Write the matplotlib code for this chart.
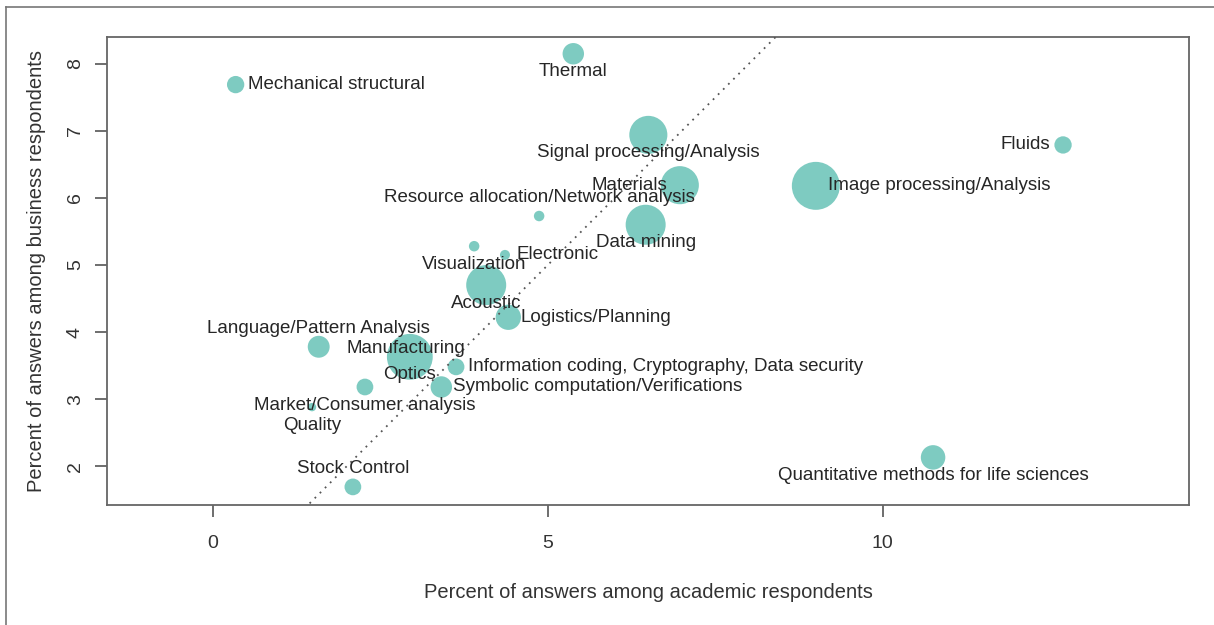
import matplotlib
matplotlib.use("Agg")
import matplotlib.pyplot as plt
from matplotlib.lines import Line2D
import numpy as np

plt.rcParams['font.family'] = ['Liberation Sans', 'DejaVu Sans']

# research areas, share of answers by respondent group, bubble weight
areas = [
    "Mechanical structural", "Thermal", "Signal processing/Analysis", "Fluids",
    "Materials", "Image processing/Analysis", "Resource allocation/Network analysis",
    "Data mining", "Visualization", "Electronic", "Acoustic", "Logistics/Planning",
    "Language/Pattern Analysis", "Manufacturing", "Optics",
    "Information coding, Cryptography, Data security",
    "Symbolic computation/Verifications", "Market/Consumer analysis", "Quality",
    "Stock Control", "Quantitative methods for life sciences",
]
academic = [0.34, 5.38, 6.50, 12.69, 6.97, 9.00, 4.87, 6.46, 3.90, 4.36, 4.08,
            4.41, 1.58, 2.88, 2.94, 3.63, 3.41, 2.27, 1.48, 2.09, 10.75]
business = [7.69, 8.15, 6.94, 6.79, 6.19, 6.18, 5.73, 5.60, 5.28, 5.15, 4.70,
            4.22, 3.78, 3.48, 3.63, 3.48, 3.18, 3.18, 2.88, 1.69, 2.13]
weight = [3, 4.6, 14.5, 3, 14.5, 23, 1.1, 16, 1.1, 1, 16,
          6.4, 4.8, 1, 21, 2.8, 4.6, 2.8, 0.7, 2.8, 6]

# where each label sits relative to its bubble
label_pos = ["right", "below", "below", "left", "left", "right", "above",
             "below", "below", "right", "below", "right", "above", "above",
             "below", "right", "right", "below", "below", "above", "below"]

offsets = {
    "below": ((0, -13), "center"),
    "above": ((0, 13.5), "center"),
    "right": ((8.6, 0), "left"),
    "left": ((-9, 0), "right"),
}

fig = plt.figure(figsize=(12.14, 6.25), dpi=100)
ax = fig.add_axes([107 / 1214, 1 - 505 / 625, 1082 / 1214, 468 / 625])

ax.set_xlim(-1.58, 14.57)
ax.set_ylim(1.42, 8.40)

ax.scatter(academic, business, s=np.array(weight) * 51.84, color="#7ECBC1",
           edgecolors="none", zorder=2)

# diagonal: equal share in both groups
ax.plot([-2, 15], [-2, 15], linestyle=(0, (1, 3)), color="#555555",
        linewidth=1.3, zorder=3)

for name, xv, yv, pos in zip(areas, academic, business, label_pos):
    off, ha = offsets[pos]
    ax.annotate(name, (xv, yv), xytext=off, textcoords="offset points",
                ha=ha, va="center", fontsize=13.5, color="#262626", zorder=4)

ax.set_xticks([0, 5, 10])
ax.set_yticks([2, 3, 4, 5, 6, 7, 8])
ax.tick_params(axis="both", direction="out", length=8.6, width=1.2,
               color="#555555", labelcolor="#333333", labelsize=14)
ax.tick_params(axis="x", pad=13)
ax.tick_params(axis="y", pad=8)
for lab in ax.get_yticklabels():
    lab.set_rotation(90)
    lab.set_va("center")

for sp in ax.spines.values():
    sp.set_color("#666666")
    sp.set_linewidth(1.3)

ax.set_xlabel("Percent of answers among academic respondents", fontsize=14.5,
              color="#333333")
ax.set_ylabel("Percent of answers among business respondents", fontsize=14.5,
              color="#333333")
ax.xaxis.set_label_coords(0.5, -0.186)
ax.yaxis.set_label_coords(-0.0647, 0.5)
ax.xaxis.label.set_va("center")
ax.yaxis.label.set_va("center")

# outer frame (left and top edges only visible)
fig.add_artist(Line2D([6 / 1214, 6 / 1214], [0, 1 - 7 / 625],
                      transform=fig.transFigure, color="#777777", linewidth=1.2))
fig.add_artist(Line2D([6 / 1214, 1], [1 - 7 / 625, 1 - 7 / 625],
                      transform=fig.transFigure, color="#777777", linewidth=1.2))

fig.savefig("out.png", dpi=100)
